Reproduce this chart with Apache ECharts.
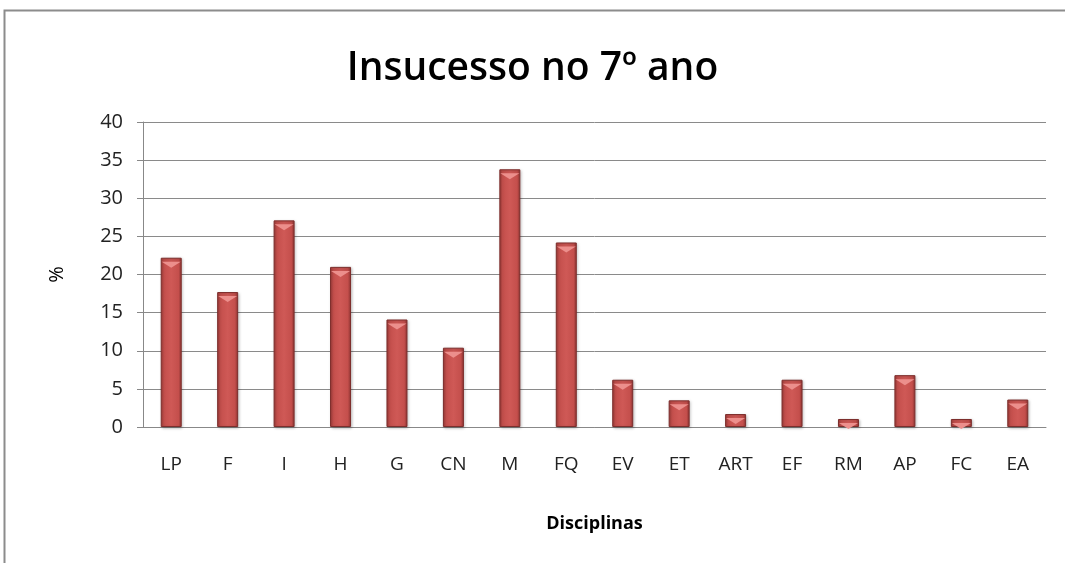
<!DOCTYPE html>
<html>
<head>
<meta charset="UTF-8">
<title>Insucesso no 7º ano</title>
<script src="https://cdn.jsdelivr.net/npm/echarts@6/dist/echarts.min.js"></script>
<style>
html, body { margin: 0; padding: 0; background: #fff; }
#chart { width: 1065px; height: 563px; }
</style>
</head>
<body>
<div id="chart"></div>
<script>
// disciplinas e percentagens
var disciplinas = ['LP', 'F', 'I', 'H', 'G', 'CN', 'M', 'FQ', 'EV', 'ET', 'ART', 'EF', 'RM', 'AP', 'FC', 'EA'];
var insucesso = [22.2, 17.7, 27.1, 21.0, 14.1, 10.4, 33.8, 24.2, 6.2, 3.5, 1.7, 6.2, 1.05, 6.8, 1.05, 3.6];
var yTicks = [0, 5, 10, 15, 20, 25, 30, 35, 40];

var fonte = '"Open Sans", "Noto Sans", sans-serif';
var chart = echarts.init(document.getElementById('chart'));

chart.setOption({
	animation: false,
	title: {
		text: 'Insucesso no 7º ano',
		left: 'center',
		top: 44,
		textStyle: { fontFamily: fonte, fontSize: 39, fontWeight: 600, color: '#000' }
	},
	graphic: [{
		type: 'rect',
		shape: { x: 4.5, y: 10.5, width: 1070, height: 570 },
		style: { fill: 'none', stroke: '#8c8c8c', lineWidth: 2 },
		silent: true
	}],
	grid: { left: 143, right: 19, top: 122, bottom: 136 },
	xAxis: {
		type: 'category',
		data: disciplinas,
		name: 'Disciplinas',
		nameLocation: 'middle',
		nameGap: 88,
		nameTextStyle: { fontFamily: fonte, fontSize: 18, fontWeight: 'bold', color: '#000' },
		axisLine: { lineStyle: { color: '#888', width: 1 } },
		axisTick: { show: false },
		axisLabel: { fontFamily: fonte, fontSize: 19, color: '#222', margin: 28 }
	},
	yAxis: {
		type: 'value',
		min: yTicks[0],
		max: yTicks[yTicks.length - 1],
		interval: 5,
		name: '%',
		nameLocation: 'middle',
		nameGap: 76,
		nameRotate: 90,
		nameTextStyle: { fontFamily: fonte, fontSize: 20, color: '#000' },
		axisLine: { show: true, lineStyle: { color: '#888', width: 1 } },
		axisTick: { show: true, length: 6, lineStyle: { color: '#888' } },
		axisLabel: { fontFamily: fonte, fontSize: 20, color: '#222', margin: 20 },
		splitLine: { lineStyle: { color: '#8a8a8a', width: 1 } }
	},
	series: [{
		type: 'bar',
		data: insucesso,
		barWidth: 21,
		z: 2,
		itemStyle: {
			color: {
				type: 'linear', x: 0, y: 0, x2: 1, y2: 0,
				colorStops: [
					{ offset: 0, color: '#9e3b38' },
					{ offset: 0.15, color: '#c44f4c' },
					{ offset: 0.5, color: '#cf5956' },
					{ offset: 0.85, color: '#c44f4c' },
					{ offset: 1, color: '#8e3432' }
				]
			},
			borderColor: '#7d2e2c',
			borderWidth: 1,
			shadowColor: 'rgba(0,0,0,0.25)',
			shadowBlur: 3,
			shadowOffsetX: 1,
			shadowOffsetY: 1
		}
	}, {
		// brilho triangular no topo de cada barra
		type: 'pictorialBar',
		data: insucesso,
		symbol: 'path://M0,0 L10,0 L5,4 Z',
		symbolSize: [19, 6],
		symbolPosition: 'end',
		symbolOffset: [0, 4],
		barGap: '-100%',
		z: 3,
		silent: true,
		itemStyle: { color: '#ec8f8c' }
	}]
});
</script>
</body>
</html>
